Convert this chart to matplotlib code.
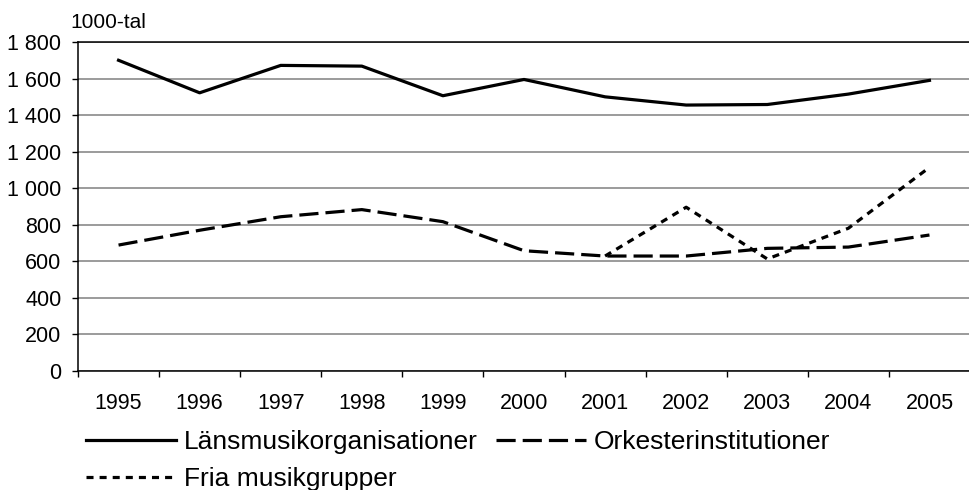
import matplotlib
matplotlib.use('Agg')
import matplotlib.pyplot as plt
from matplotlib.ticker import FuncFormatter, FixedLocator

plt.rcParams['font.family'] = ['Liberation Sans', 'DejaVu Sans']

years = ['1995', '1996', '1997', '1998', '1999', '2000', '2001', '2002', '2003', '2004', '2005']
lans = [1700, 1522, 1672, 1668, 1506, 1595, 1500, 1455, 1458, 1515, 1590]
orkester = [689, 770, 844, 883, 817, 658, 629, 629, 671, 678, 744]
fria = [None, None, None, None, None, None, 629, 896, 613, 781, 1114]

fig = plt.figure(figsize=(9.7, 4.9), dpi=100)
ax = fig.add_axes([78 / 970, 1 - 371 / 490, 892 / 970, 329 / 490])

x = list(range(len(years)))
fx = [i for i, v in zip(x, fria) if v is not None]
fy = [v for v in fria if v is not None]

l1, = ax.plot(x, lans, color='black', linewidth=2.3, label='Länsmusikorganisationer')
l2, = ax.plot(x, orkester, color='black', linewidth=2.3, linestyle=(0, (6, 2.2)),
              label='Orkesterinstitutioner')
l3, = ax.plot(fx, fy, color='black', linewidth=2.3, linestyle=(0, (2.2, 1.9)),
              label='Fria musikgrupper')

ax.set_xlim(-0.5, len(years) - 0.5)
ax.set_ylim(0, 1800)
ax.set_yticks(range(0, 1801, 200))
ax.yaxis.set_major_formatter(FuncFormatter(lambda v, p: '{:,}'.format(int(v)).replace(',', ' ')))
ax.grid(axis='y', color='#808080', linewidth=1.1)
ax.set_axisbelow(True)

ax.set_xticks(x)
ax.set_xticklabels(years)
ax.xaxis.set_minor_locator(FixedLocator([i - 0.5 for i in range(len(years) + 1)]))
ax.tick_params(axis='x', which='major', length=0, pad=16, labelsize=15.5)
ax.tick_params(axis='x', which='minor', length=4, width=1, direction='out')
ax.tick_params(axis='y', length=4, width=1, pad=8, labelsize=15.5)

for s in ['top', 'right']:
    ax.spines[s].set_visible(False)
ax.spines['left'].set_linewidth(1.1)
ax.spines['bottom'].set_linewidth(1.1)
ax.axhline(1800, color='black', linewidth=1.1, clip_on=False)

fig.text(70 / 970, 1 - 22 / 490, '1000-tal', fontsize=15, va='center', ha='left')

fig.legend([l1, l3, l2], [l1.get_label(), l3.get_label(), l2.get_label()],
           loc='upper left', bbox_to_anchor=(86 / 970, 1 - 430 / 490), ncol=2,
           frameon=False, fontsize=19, borderpad=0, borderaxespad=0,
           handlelength=3.4, handletextpad=0.3, columnspacing=0.7, labelspacing=0.5)

fig.savefig('out.png', dpi=100)
